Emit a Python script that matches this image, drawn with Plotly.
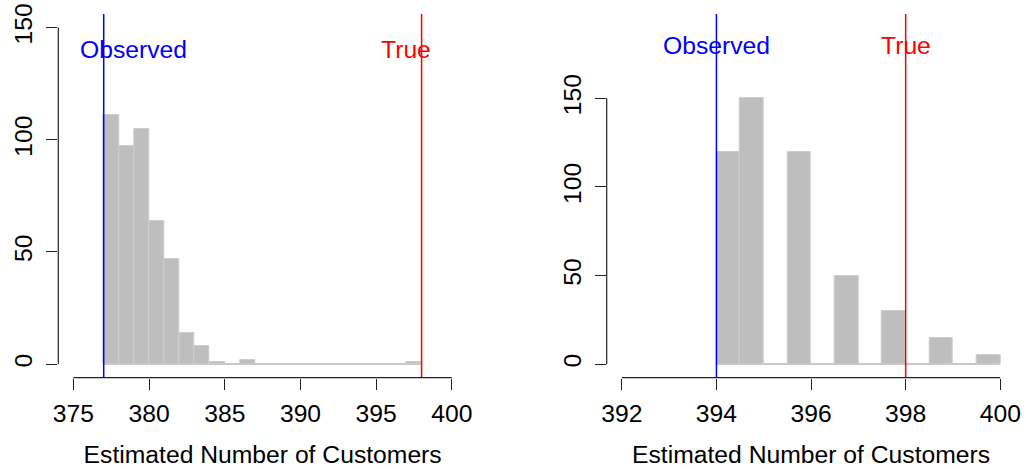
import plotly.graph_objects as go

# ---- data ----
left_breaks = list(range(377, 399))          # bin edges, width 1
left_counts = [111, 97, 105, 64, 47, 14, 8, 1, 0, 2, 0, 0, 0, 0, 0, 0, 0, 0, 0, 0, 1]
left_observed = 377
left_true = 398
left_xticks = [375, 380, 385, 390, 395, 400]
left_yticks = [0, 50, 100, 150]

right_breaks = [394 + 0.5 * i for i in range(13)]   # bin edges, width 0.5
right_counts = [120, 150, 0, 120, 0, 50, 0, 30, 0, 15, 0, 5]
right_observed = 394
right_true = 398
right_xticks = [392, 394, 396, 398, 400]
right_yticks = [0, 50, 100, 150]

xlabel = "Estimated Number of Customers"
FONT = "Liberation Sans, Arial, sans-serif"
FS = 24.7

fig = go.Figure()

def add_panel(breaks, counts, obs, true, xt, yt, obs_lab_x, true_lab_x, lab_y, ax):
    centers = [(breaks[i] + breaks[i + 1]) / 2 for i in range(len(counts))]
    widths = [breaks[i + 1] - breaks[i] for i in range(len(counts))]
    xa = "x" if ax == 1 else "x2"
    ya = "y" if ax == 1 else "y2"
    # baseline of empty bins
    fig.add_trace(go.Scatter(x=[breaks[0], breaks[-1]], y=[0, 0], mode="lines",
                             line=dict(color="#C8C8C8", width=1.5),
                             xaxis=xa, yaxis=ya, showlegend=False, hoverinfo="skip"))
    fig.add_trace(go.Bar(x=centers, y=counts, width=widths,
                         marker=dict(color="#BEBEBE", line=dict(color="#CDCDCD", width=1)),
                         xaxis=xa, yaxis=ya, showlegend=False))
    sfx = "" if ax == 1 else "2"
    # vertical reference lines
    fig.add_shape(type="line", xref=xa, yref=f"y{sfx} domain", x0=obs, x1=obs, y0=0, y1=1,
                  line=dict(color="#0000FF", width=1.5))
    fig.add_shape(type="line", xref=xa, yref=f"y{sfx} domain", x0=true, x1=true, y0=0, y1=1,
                  line=dict(color="#FF0000", width=1.5))
    # axis lines spanning tick range (R style)
    fig.add_shape(type="line", xref=xa, yref=f"y{sfx} domain", x0=xt[0], x1=xt[-1], y0=0, y1=0,
                  line=dict(color="#222222", width=1.2))
    fig.add_shape(type="line", xref=f"x{sfx} domain", yref=ya, x0=0, x1=0, y0=yt[0], y1=yt[-1],
                  line=dict(color="#222222", width=1.2))
    # labels
    fig.add_annotation(x=obs_lab_x, y=lab_y, xref=xa, yref=ya, text="Observed",
                       showarrow=False, font=dict(color="#0000FF", size=FS, family=FONT),
                       xanchor="center", yanchor="middle")
    fig.add_annotation(x=true_lab_x, y=lab_y, xref=xa, yref=ya, text="True",
                       showarrow=False, font=dict(color="#FF0000", size=FS, family=FONT),
                       xanchor="center", yanchor="middle")

add_panel(left_breaks, left_counts, left_observed, left_true, left_xticks, left_yticks,
          379, 397, 140, 1)
add_panel(right_breaks, right_counts, right_observed, right_true, right_xticks, right_yticks,
          394, 398, 180, 2)

axis_common = dict(showgrid=False, zeroline=False, showline=False, ticks="outside",
                   ticklen=11, tickwidth=1.2, tickcolor="#222222", automargin=False,
                   tickfont=dict(size=FS, family=FONT, color="black"))

ybot = (469 - 377.7) / 469
ytop = (469 - 14) / 469

fig.update_layout(
    width=1026, height=469,
    margin=dict(l=0, r=0, t=0, b=0, autoexpand=False),
    plot_bgcolor="white", paper_bgcolor="white",
    bargap=0,
    font=dict(family=FONT, size=FS, color="black"),
    xaxis=dict(domain=[58.3 / 1026, 467 / 1026], range=[374, 401], tickvals=left_xticks,
               anchor="y", ticklabelstandoff=3,
               title=dict(text=xlabel, font=dict(size=FS, family=FONT), standoff=19),
               **axis_common),
    yaxis=dict(domain=[ybot, ytop], range=[-6, 156], tickvals=left_yticks, tickangle=-90,
               anchor="x", ticklabelstandoff=4, **axis_common),
    xaxis2=dict(domain=[606.7 / 1026, 1015.4 / 1026], range=[391.68, 400.32], tickvals=right_xticks,
                anchor="y2", ticklabelstandoff=3,
                title=dict(text=xlabel, font=dict(size=FS, family=FONT), standoff=19),
                **axis_common),
    yaxis2=dict(domain=[ybot, ytop], range=[-7.6, 197.6], tickvals=right_yticks, tickangle=-90,
                anchor="x2", ticklabelstandoff=4, **axis_common),
)

fig.write_html("out.html")
